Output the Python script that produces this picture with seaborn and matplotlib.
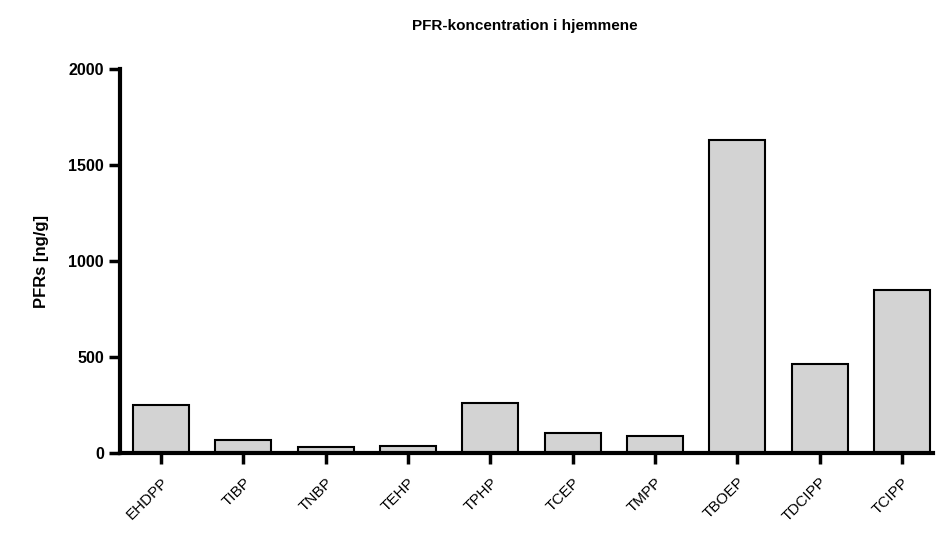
import pandas as pd
import matplotlib
matplotlib.use('Agg')
import matplotlib.pyplot as plt
import seaborn as sns

# PFR-koncentration i hjemmene

compounds = ['EHDPP', 'TIBP', 'TNBP', 'TEHP', 'TPHP', 'TCEP', 'TMPP', 'TBOEP', 'TDCIPP', 'TCIPP']
concentration = [252, 69, 33, 38, 259, 106, 87, 1630, 462, 850]
y_ticks = [0, 500, 1000, 1500, 2000]

df = pd.DataFrame({'compound': compounds, 'ngg': concentration})

sns.set_style('ticks')
plt.rcParams['font.family'] = ['Liberation Sans', 'DejaVu Sans']
plt.rcParams['text.color'] = 'black'
plt.rcParams['axes.labelcolor'] = 'black'
plt.rcParams['xtick.color'] = 'black'
plt.rcParams['ytick.color'] = 'black'
plt.rcParams['axes.edgecolor'] = 'black'

fig = plt.figure(figsize=(9.37, 5.45), dpi=100)
ax = fig.add_axes([0.128, 0.169, 0.868, 0.704])

sns.barplot(data=df, x='compound', y='ngg', color='#d3d3d3', saturation=1,
            width=0.68, edgecolor='black', linewidth=1.5, ax=ax)

ax.set_ylim(0, 2000)
ax.set_xlim(-0.5, 9.38)
ax.set_yticks(y_ticks)
ax.set_yticklabels([str(t) for t in y_ticks], fontsize=11.5, fontweight='bold')
ax.set_xticks(range(len(compounds)))
ax.set_xticklabels(compounds, rotation=45, ha='right', rotation_mode='anchor', fontsize=11)

for s in ['top', 'right']:
    ax.spines[s].set_visible(False)
for s in ['left', 'bottom']:
    ax.spines[s].set_linewidth(3)
    ax.spines[s].set_color('black')
ax.tick_params(axis='both', length=8, width=2.5, direction='out', color='black', labelcolor='black')
ax.tick_params(axis='x', pad=8)

ax.set_xlabel('')
ax.set_ylabel('PFRs [ng/g]', fontsize=12, fontweight='bold', labelpad=14, color='black')
fig.suptitle('PFR-koncentration i hjemmene', x=0.56, y=0.965, fontsize=11, fontweight='bold', color='black')

plt.savefig('out.png', dpi=100)
